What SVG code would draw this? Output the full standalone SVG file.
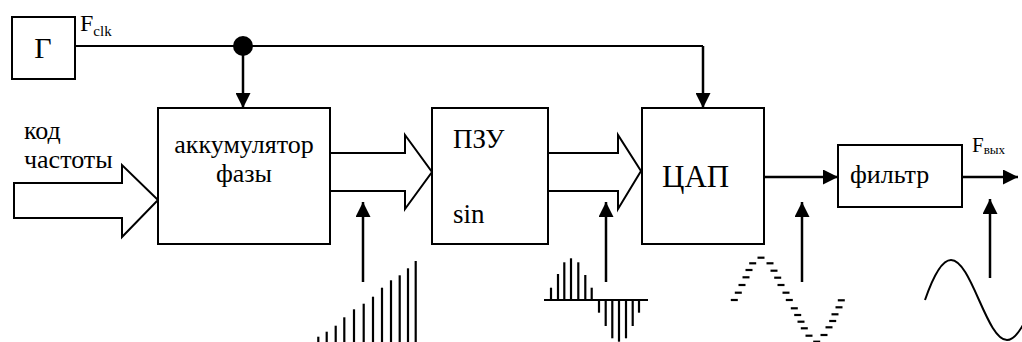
<svg xmlns="http://www.w3.org/2000/svg" width="1022" height="342" viewBox="0 0 1022 342">
<style>
.box{fill:#fff;stroke:#000;stroke-width:2}
.fat{fill:#fff;stroke:#000;stroke-width:2;stroke-linejoin:miter}
.ln{fill:none;stroke:#000;stroke-width:2}
.ar{fill:none;stroke:#000;stroke-width:2.5}
.bar{fill:none;stroke:#000;stroke-width:2.2}
.t{font-family:'Liberation Serif','Times New Roman',serif;fill:#000;stroke:none}
</style>
<defs>
<marker id="ah" markerUnits="userSpaceOnUse" markerWidth="15" markerHeight="15" refX="15" refY="7.5" orient="auto">
<path d="M0,0 L15,7.5 L0,15 z" fill="#000" stroke="none"/>
</marker>
</defs>
<g id="connectors">
<line class="ln" x1="75" y1="46" x2="703" y2="46"/>
<line class="ar" x1="243" y1="46" x2="243" y2="108" marker-end="url(#ah)"/>
<line class="ar" x1="703" y1="46" x2="703" y2="108" marker-end="url(#ah)"/>
<circle cx="243" cy="46" r="10" fill="#000"/>
<polygon class="fat" points="14,183 122,183 122,165 158,200 122,237 122,218 14,218"/>
<polygon class="fat" points="330,153 405,153 405,135 432,172 405,209 405,191 330,191"/>
<polygon class="fat" points="548,153 618,153 618,135 641,171 618,209 618,191 548,191"/>
<line class="ar" x1="764" y1="177" x2="838" y2="177" marker-end="url(#ah)"/>
<line class="ar" x1="962" y1="177" x2="1018" y2="177" marker-end="url(#ah)"/>
<line class="ar" x1="363" y1="282" x2="363" y2="202" marker-end="url(#ah)"/>
<line class="ar" x1="606" y1="282" x2="606" y2="202" marker-end="url(#ah)"/>
<line class="ar" x1="802" y1="282" x2="802" y2="202" marker-end="url(#ah)"/>
<line class="ar" x1="990" y1="278" x2="990" y2="199" marker-end="url(#ah)"/>
</g>
<g id="gen">
<rect class="box" x="12" y="17" width="63" height="62"/>
<text class="t" x="43" y="58" font-size="30" text-anchor="middle" font-family="Liberation Serif">Г</text>
</g>
<text class="t" x="80" y="31" font-size="24" font-family="Liberation Serif">F<tspan font-size="15" dy="5">clk</tspan></text>
<text class="t" x="24" y="139" font-size="26" font-family="Liberation Serif">код</text>
<text class="t" x="24" y="168" font-size="26" font-family="Liberation Serif">частоты</text>
<g id="acc">
<rect class="box" x="158" y="108" width="172" height="136"/>
<text class="t" x="244" y="153" font-size="26" text-anchor="middle" font-family="Liberation Serif">аккумулятор</text>
<text class="t" x="244" y="182" font-size="26" text-anchor="middle" font-family="Liberation Serif">фазы</text>
</g>
<g id="rom">
<rect class="box" x="432" y="108" width="116" height="136"/>
<text class="t" x="453" y="148" font-size="27" font-family="Liberation Serif">ПЗУ</text>
<text class="t" x="453" y="223" font-size="27" font-family="Liberation Serif">sin</text>
</g>
<g id="dac">
<rect class="box" x="642" y="108" width="122" height="136"/>
<text class="t" x="662" y="187" font-size="31" font-family="Liberation Serif">ЦАП</text>
</g>
<g id="filter">
<rect class="box" x="838" y="145" width="124" height="62"/>
<text class="t" x="850" y="183" font-size="26" font-family="Liberation Serif">фильтр</text>
</g>
<text class="t" x="972" y="152" font-size="21" font-family="Liberation Serif">F<tspan font-size="13" dy="2">вых</tspan></text>
<g id="saw" class="bar">
<line x1="318.3" y1="336.7" x2="318.3" y2="342"/>
<line x1="326.7" y1="331.7" x2="326.7" y2="342"/>
<line x1="335.7" y1="325.7" x2="335.7" y2="342"/>
<line x1="344.3" y1="317.3" x2="344.3" y2="342"/>
<line x1="354" y1="309.3" x2="354" y2="342"/>
<line x1="363.7" y1="303.7" x2="363.7" y2="342"/>
<line x1="373" y1="296.7" x2="373" y2="342"/>
<line x1="382" y1="287.7" x2="382" y2="342"/>
<line x1="391" y1="280.3" x2="391" y2="342"/>
<line x1="399.7" y1="275.3" x2="399.7" y2="342"/>
<line x1="408" y1="268.3" x2="408" y2="342"/>
<line x1="415.7" y1="261" x2="415.7" y2="342"/>
</g>
<g id="sampled" class="bar">
<line x1="544" y1="300" x2="648" y2="300"/>
<line x1="551" y1="287.7" x2="551" y2="300"/>
<line x1="558" y1="274" x2="558" y2="300"/>
<line x1="564.3" y1="262.3" x2="564.3" y2="300"/>
<line x1="571" y1="258.3" x2="571" y2="300"/>
<line x1="578.3" y1="262.3" x2="578.3" y2="300"/>
<line x1="585.3" y1="275" x2="585.3" y2="300"/>
<line x1="591.7" y1="287.7" x2="591.7" y2="300"/>
<line x1="599" y1="300" x2="599" y2="312.7"/>
<line x1="605.7" y1="300" x2="605.7" y2="326"/>
<line x1="612.3" y1="300" x2="612.3" y2="338.3"/>
<line x1="619" y1="300" x2="619" y2="341.7"/>
<line x1="626" y1="300" x2="626" y2="338.3"/>
<line x1="632.7" y1="300" x2="632.7" y2="326"/>
<line x1="639" y1="300" x2="639" y2="312.7"/>
</g>
<g id="stepped" class="bar">
<line x1="757.5" y1="257.7" x2="764.5" y2="257.7"/>
<line x1="749.2" y1="263.3" x2="756.2" y2="263.3"/>
<line x1="766.5" y1="263.3" x2="773.5" y2="263.3"/>
<line x1="745.5" y1="270" x2="752.5" y2="270"/>
<line x1="770.5" y1="270.7" x2="777.5" y2="270.7"/>
<line x1="742.5" y1="277.3" x2="749.5" y2="277.3"/>
<line x1="774.2" y1="277.7" x2="781.2" y2="277.7"/>
<line x1="738.5" y1="285" x2="745.5" y2="285"/>
<line x1="777.5" y1="285" x2="784.5" y2="285"/>
<line x1="734.8" y1="292.7" x2="741.8" y2="292.7"/>
<line x1="782.5" y1="292.7" x2="789.5" y2="292.7"/>
<line x1="730.8" y1="300" x2="737.8" y2="300"/>
<line x1="785.8" y1="300" x2="792.8" y2="300"/>
<line x1="790.8" y1="308.3" x2="797.8" y2="308.3"/>
<line x1="837.8" y1="300.3" x2="844.8" y2="300.3"/>
<line x1="835.5" y1="307.3" x2="842.5" y2="307.3"/>
<line x1="794.2" y1="315" x2="801.2" y2="315"/>
<line x1="831.5" y1="314.3" x2="838.5" y2="314.3"/>
<line x1="829.2" y1="321" x2="836.2" y2="321"/>
<line x1="797.5" y1="321.7" x2="804.5" y2="321.7"/>
<line x1="825.5" y1="327.3" x2="832.5" y2="327.3"/>
<line x1="800.8" y1="328.3" x2="807.8" y2="328.3"/>
<line x1="820.5" y1="335" x2="827.5" y2="335"/>
<line x1="805.5" y1="335.7" x2="812.5" y2="335.7"/>
<line x1="813.2" y1="341.7" x2="820.2" y2="341.7"/>
</g>
<path id="sine" class="ln" d="M925,300 C932.1,279.5 940.9,260 951,260 C961.1,260 969.9,279.5 979,300 C988.1,320.5 996.9,340 1007,340 C1017.1,340 1025.9,320.5 1035,300"/>
</svg>
